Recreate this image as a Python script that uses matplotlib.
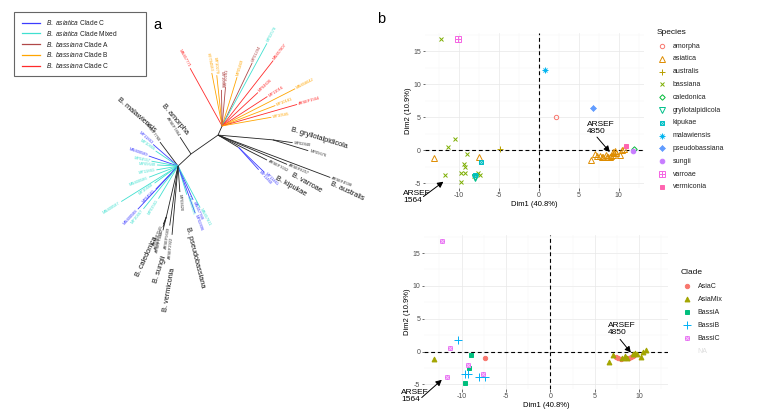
import numpy as np
import matplotlib

matplotlib.use("Agg")
import matplotlib.pyplot as plt
from matplotlib.patches import Rectangle

plt.rcParams["font.family"] = ["Liberation Sans", "DejaVu Sans"]
plt.rcParams["mathtext.fontset"] = "custom"
plt.rcParams["mathtext.rm"] = "Liberation Sans"
plt.rcParams["mathtext.it"] = "Liberation Sans:italic"

# ---------------- panel a: unrooted tree ----------------
tree_colors = {
    "AsiaC": "#3c3cff",
    "AsiaMix": "#40e0d0",
    "BassiA": "#b04848",
    "BassiB": "#ffa500",
    "BassiC": "#ff2a2a",
    "none": "#222222",
}
legend_species = ["B. asiatica", "B. asiatica", "B. bassiana", "B. bassiana", "B. bassiana"]
legend_clade = ["Clade C", "Clade Mixed", "Clade A", "Clade B", "Clade C"]
legend_keys = ["AsiaC", "AsiaMix", "BassiA", "BassiB", "BassiC"]

# internal nodes: name, parent, layout angle (deg), branch length
node_name = ["up", "fan", "low", "gry", "blu", "cal"]
node_parent = ["root", "up", "root", "up", "up", "low"]
node_angle = [35, 66, -137, -5, -31, -103]
node_len = [33, 10, 17.7, 55, 24, 52]

# tips: parent, angle, length, clade, label
tip_parent = ["fan"] * 15 + ["gry", "gry", "up", "up", "up", "blu", "blu"] + \
    ["root", "low"] + ["low"] * 13 + ["low"] * 7 + ["cal"] * 3
tip_angle = [119, 101, 96, 91, 85, 73, 64.5, 61.5, 52, 43, 33, 27, 21, 16, 10,
             -8, -17, -20.7, -23, -27, -44, -48,
             123, 127,
             139, 146, 161, 169.5, 177, 190, 201, 216, 212, 226, 227, 231, 239,
             -73, -66, -70, -62, -86, -95, -98,
             -112, -108, -104]
tip_len = [66, 54, 51, 36, 39, 51, 70, 94, 83, 49, 54, 82, 57, 78, 50,
           20, 37, 120, 75, 55, 36, 30,
           20, 30,
           33, 27, 31, 27, 21, 22, 31, 29, 67, 32, 59, 55, 38,
           30, 37, 50, 47, 26, 69, 60,
           8, 11, 14]
tip_clade = ["BassiC", "BassiB", "BassiB", "BassiA", "BassiA", "BassiB", "BassiA", "AsiaMix",
             "BassiC", "BassiC", "BassiC", "BassiB", "BassiB", "BassiC", "BassiB",
             "none", "none", "none", "none", "none", "AsiaC", "AsiaC",
             "none", "none",
             "AsiaC", "AsiaMix", "AsiaC", "AsiaMix", "AsiaMix", "AsiaMix", "AsiaMix",
             "AsiaMix", "AsiaMix", "AsiaC", "AsiaC", "AsiaMix", "AsiaMix",
             "AsiaMix", "AsiaC", "AsiaC", "AsiaMix", "none", "none", "none",
             "none", "none", "none"]
tip_label = ["MN457771", "KY794583", "MY10279", "MY10580", "MY10281", "MY05469", "MY01294",
             "MY02578", "MN457807", "MY04636", "MY11016", "MN458042", "MY10181",
             "ARSEF1564", "MY10585",
             "MY02840", "MY05676", "ARSEF4598", "ARSEF8257", "ARSEF7032", "MY11461", "MY11460",
             "ARSEF7864", "ARSEF7760",
             "MY11863", "MY10466", "MN400589", "MY04557", "MY05640", "MY11861", "MN400586",
             "MY10468", "MN400587", "MY04561", "MN400588", "MY10467", "MY01561",
             "MN400583", "MN457788", "MY02896", "MN457811", "MY03620", "ARSEF2922",
             "ARSEF5689",
             "ARSEF7541", "ARSEF7542", "ARSEF7543"]

species_text = ["B. malawiensis", "B. amorpha", "B. gryllotalpidicola", "B. australis",
                "B. varroae", "B. kipukae", "B. caledonica", "B. sungii", "B. vermiconia",
                "B. pseudobassiana"]
# label placement (pixel frame of the figure) and rotation
species_pos = [(136, 115, -41), (175, 119, -50), (319, 138, -17), (347, 191, -25),
               (306, 183, -29), (291, 186, -29), (147, 257, 65), (160, 269, 72),
               (169, 290, 80), (195, 257, -76)]
TREE_ROOT = (191.0, 154.0)

# ---------------- panel b: PCA ----------------
species_names = ["amorpha", "asiatica", "australis", "bassiana", "caledonica",
                 "gryllotalpidicola", "kipukae", "malawiensis", "pseudobassiana",
                 "sungii", "varroae", "vermiconia"]
species_colors = ["#F8766D", "#DE8C00", "#B79F00", "#7CAE00", "#00BA38", "#00C08B",
                  "#00BFC4", "#00B4F0", "#619CFF", "#C77CFF", "#F564E3", "#FF64B0"]
species_shapes = ["circle_open", "tri_open", "plus", "cross", "diamond_open", "tridown_open",
                  "square_cross", "asterisk", "diamond_plus", "circle_plus", "square_plus",
                  "square"]

asiac_x = [-7.43, 7.36, 7.62, 7.9, 8.5, 8.87, 9.06, 9.25, 9.4]
asiac_y = [-1.0, -0.81, -0.91, -1.07, -1.02, -0.96, -0.86, -0.66, -0.46]
asiamix_x = [-13.1, 6.6, 7.06, 8.0, 8.38, 8.64, 9.3, 9.5, 9.7, 10.19, 10.45, 10.72]
asiamix_y = [-1.17, -1.52, -0.51, -0.95, -0.66, -1.02, -0.3, -0.15, -0.4, -0.76, 0.0, 0.2]
bassia_x = [-8.94, -9.17, -9.66]
bassia_y = [-0.5, -2.5, -4.8]
bassib_x = [-10.4, -9.66, -9.25, -8.1, -7.36]
bassib_y = [1.78, -3.45, -3.45, -3.85, -3.8]
bassic_x = [-12.26, -11.3, -9.28, -7.6, -11.66]
bassic_y = [16.8, 0.5, -2.0, -3.45, -3.8]

species_x = {
    "amorpha": [2.2],
    "asiatica": asiac_x + asiamix_x,
    "australis": [-4.8],
    "bassiana": bassia_x + bassib_x + bassic_x,
    "caledonica": [11.9],
    "gryllotalpidicola": [-8.0, -8.0],
    "kipukae": [-7.2, -7.95],
    "malawiensis": [0.84],
    "pseudobassiana": [6.75],
    "sungii": [11.8],
    "varroae": [-10.1],
    "vermiconia": [10.95],
}
species_y = {
    "amorpha": [5.1],
    "asiatica": asiac_y + asiamix_y,
    "australis": [0.15],
    "bassiana": bassia_y + bassib_y + bassic_y,
    "caledonica": [0.25],
    "gryllotalpidicola": [-4.0, -4.25],
    "kipukae": [-1.75, -3.7],
    "malawiensis": [12.15],
    "pseudobassiana": [6.35],
    "sungii": [-0.15],
    "varroae": [16.8],
    "vermiconia": [0.65],
}

clade_names = ["AsiaC", "AsiaMix", "BassiA", "BassiB", "BassiC"]
clade_colors = ["#F8766D", "#A3A500", "#00BF7D", "#00B0F6", "#E76BF3"]
clade_shapes = ["circle", "tri", "square", "plus_big", "square_cross_f"]
clade_x = [asiac_x, asiamix_x, bassia_x, bassib_x, bassic_x]
clade_y = [asiac_y, asiamix_y, bassia_y, bassib_y, bassic_y]

SHAPES = {
    "circle_open": [("o", False, 0.85)],
    "tri_open": [("^", False, 1.0)],
    "plus": [("+", False, 1.0)],
    "plus_big": [("+", False, 1.4)],
    "cross": [("x", False, 0.85)],
    "diamond_open": [("D", False, 0.75)],
    "tridown_open": [("v", False, 1.0)],
    "square_cross": [("s", False, 0.9), ("x", False, 0.9)],
    "square_cross_f": [("s", True, 0.95), ("x", False, 0.9)],
    "asterisk": [("+", False, 1.0), ("x", False, 0.85)],
    "diamond_plus": [("D", True, 0.75), ("+", False, 1.0)],
    "circle_plus": [("o", True, 0.9)],
    "square_plus": [("s", False, 1.1), ("+", False, 1.1)],
    "square": [("s", True, 0.85)],
    "circle": [("o", True, 0.85)],
    "tri": [("^", True, 0.95)],
}


def draw_points(ax, xs, ys, shape, color, ms=3.7, **kw):
    for marker, filled, scale in SHAPES[shape]:
        mec = color
        if shape == "square_cross_f" and marker == "x":
            mec = "#f7c6fa"
        ax.plot(xs, ys, ls="none", marker=marker, ms=ms * scale,
                mec=mec, mfc=color if filled else "none", mew=0.7, **kw)


W, H = 757, 419
fig = plt.figure(figsize=(W / 100, H / 100), dpi=100)

over = fig.add_axes([0, 0, 1, 1])
over.set_xlim(0, W)
over.set_ylim(H, 0)
over.axis("off")

# tree layout from branch angles/lengths
pos = {"root": TREE_ROOT}
for name, parent, ang, ln in zip(node_name, node_parent, node_angle, node_len):
    x0, y0 = pos[parent]
    a = np.radians(ang)
    pos[name] = (x0 + ln * np.cos(a), y0 - ln * np.sin(a))
    over.plot([x0, pos[name][0]], [y0, pos[name][1]], color="#222222", lw=0.6,
              solid_capstyle="butt")

for parent, ang, ln, clade, lab in zip(tip_parent, tip_angle, tip_len, tip_clade, tip_label):
    x0, y0 = pos[parent]
    a = np.radians(ang)
    x1, y1 = x0 + ln * np.cos(a), y0 - ln * np.sin(a)
    col = tree_colors[clade]
    over.plot([x0, x1], [y0, y1], color=col, lw=0.6, solid_capstyle="butt")
    angn = (ang + 180) % 360 - 180
    right = -90 < angn <= 90
    rot = angn if right else angn - 180
    over.text(x1 + 1.5 * np.cos(a), y1 - 1.5 * np.sin(a), lab, fontsize=2.9,
              color=col if clade != "none" else "#333333",
              rotation=rot, rotation_mode="anchor",
              ha="left" if right else "right", va="center")

for txt, (sx, sy, rot) in zip(species_text, species_pos):
    over.text(sx, sy, txt, fontsize=5.3, color="#111111", rotation=rot,
              rotation_mode="anchor", ha="center", va="center")

# tree legend
over.add_patch(Rectangle((14, 12), 132, 64, fill=False, ec="#666666", lw=0.8))
for i, (sp, cl, key) in enumerate(zip(legend_species, legend_clade, legend_keys)):
    yy = 22.7 + i * 10.75
    over.plot([21.5, 40], [yy, yy], color=tree_colors[key], lw=0.9)
    sp_m = sp.replace(" ", r"\ ")
    over.text(46.5, yy, r"$\mathit{" + sp_m + "}$ " + cl, fontsize=4.8,
              ha="left", va="center", color="#222222")

over.text(157, 25, "a", fontsize=10.5, ha="center", va="center")
over.text(381, 19, "b", fontsize=10.5, ha="center", va="center")


def style_pca(ax):
    ax.set_xlim(-14.2, 13.2)
    ax.set_ylim(-5.7, 17.75)
    ax.set_xticks([-10, -5, 0, 5, 10])
    ax.set_xticks([-12.5, -7.5, -2.5, 2.5, 7.5, 12.5], minor=True)
    ax.set_yticks([-5, 0, 5, 10, 15])
    ax.set_yticks([-2.5, 2.5, 7.5, 12.5, 17.5], minor=True)
    ax.set_xticklabels(["-10", "-5", "0", "5", "10"])
    ax.set_yticklabels(["-5", "0", "5", "10", "15"])
    ax.grid(which="major", color="#e8e8e8", lw=0.5)
    ax.grid(which="minor", color="#f3f3f3", lw=0.3)
    ax.set_axisbelow(True)
    for s in ax.spines.values():
        s.set_visible(False)
    ax.tick_params(which="major", length=1.8, width=0.5, color="#333333",
                   labelsize=5, labelcolor="#4d4d4d", pad=1.2)
    ax.tick_params(which="minor", length=0)
    ax.axhline(0, color="black", lw=0.8, ls=(0, (3.5, 2.5)), zorder=1)
    ax.axvline(0, color="black", lw=0.8, ls=(0, (3.5, 2.5)), zorder=1)
    ax.set_xlabel("Dim1 (40.8%)", fontsize=5.5, labelpad=1)
    ax.set_ylabel("Dim2 (10.9%)", fontsize=5.5, labelpad=1)


def annotate_pca(ax, t4850, a4850, t1564, a1564):
    ax.annotate("", xy=a4850[1], xytext=a4850[0], annotation_clip=False,
                arrowprops=dict(arrowstyle="-|>,head_length=0.35,head_width=0.18",
                                color="black", lw=0.7, shrinkA=0, shrinkB=0))
    ax.text(t4850[0], t4850[1], "ARSEF\n4850", fontsize=6, ha="left", va="center",
            linespacing=1.0, clip_on=False)
    ax.annotate("", xy=a1564[1], xytext=a1564[0], annotation_clip=False,
                arrowprops=dict(arrowstyle="-|>,head_length=0.35,head_width=0.18",
                                color="black", lw=0.7, shrinkA=0, shrinkB=0))
    ax.text(t1564[0], t1564[1], "ARSEF\n1564", fontsize=6, ha="left", va="center",
            linespacing=1.0, clip_on=False, zorder=5)


ax1 = fig.add_axes([425 / W, 1 - 188 / H, 219.2 / W, 155 / H])
ax1.patch.set_alpha(0)
style_pca(ax1)
for nm, col, shp in zip(species_names, species_colors, species_shapes):
    draw_points(ax1, species_x[nm], species_y[nm], shp, col, zorder=3)
annotate_pca(ax1, (6.05, 3.45), ((7.3, 2.0), (8.9, -0.25)),
             (-16.95, -7.0), ((-14.4, -7.0), (-11.9, -4.75)))

ax2 = fig.add_axes([424.4 / W, 1 - 389 / H, 243.3 / W, 154 / H])
ax2.patch.set_alpha(0)
style_pca(ax2)
for xs, ys, col, shp in zip(clade_x, clade_y, clade_colors, clade_shapes):
    draw_points(ax2, xs, ys, shp, col, zorder=3)
annotate_pca(ax2, (6.5, 3.43), ((7.84, 1.86), (9.05, -0.15)),
             (-16.85, -6.7), ((-14.5, -7.0), (-12.24, -4.3)))

# legends of panel b (pixel frame)
over.text(657, 32, "Species", fontsize=6, ha="left", va="center", color="#111111")
for i, (nm, col, shp) in enumerate(zip(species_names, species_colors, species_shapes)):
    yy = 46 + i * 12.8
    draw_points(over, [661.7], [yy], shp, col)
    over.text(672.7, yy, nm, fontsize=5, ha="left", va="center", color="#222222")

over.text(681, 272, "Clade", fontsize=6, ha="left", va="center", color="#111111")
for i, (nm, col, shp) in enumerate(zip(clade_names, clade_colors, clade_shapes)):
    yy = 286 + i * 13
    draw_points(over, [686.7], [yy], shp, col)
    over.text(697.7, yy, nm, fontsize=5, ha="left", va="center", color="#222222")
over.text(697.7, 286 + 5 * 13, "NA", fontsize=5, ha="left", va="center", color="#dddddd")

fig.savefig("out.png", dpi=100)
